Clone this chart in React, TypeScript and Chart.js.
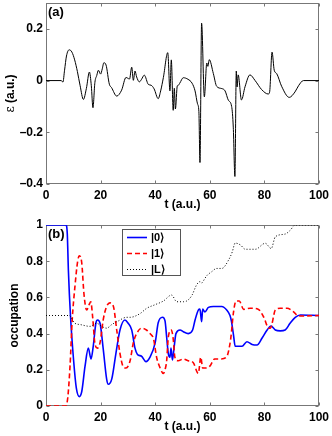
import React, { useEffect, useRef } from "react";
import { Chart, registerables } from "chart.js";

Chart.register(...registerables);

// ---------------- data ----------------
const tTicks = [0, 20, 40, 60, 80, 100];
const tTickLabels = ["0", "20", "40", "60", "80", "100"];
const epsTicks = [-0.4, -0.2, 0, 0.2];
const epsTickLabels = ["\u20130.4", "\u20130.2", "0", "0.2"];
const occTicks = [0, 0.2, 0.4, 0.6, 0.8, 1];
const occTickLabels = ["0", "0.2", "0.4", "0.6", "0.8", "1"];

// panel (a): field epsilon(t)
const fieldT = [0, 5.6, 6.2, 6.8, 7.5, 8.5, 9.5, 10.5, 11.5, 12.5, 13.7, 14.8, 15.9, 16.6, 17.2, 17.9, 18.6, 19.2, 20.0, 20.6, 21.2, 22.0, 23.2, 24.0, 25.9, 27.7, 29.3, 30.6, 31.4, 32.0, 32.6, 33.2, 34.2, 35.0, 36.0, 37.5, 38.5, 39.6, 41.1, 42.0, 43.0, 44.6, 45.4, 45.9, 46.6, 47.0, 47.4, 48.1, 48.5, 49.0, 50.3, 52.0, 53.5, 54.6, 55.5, 56.0, 56.4, 57.0, 58.0, 58.9, 59.3, 59.8, 61.3, 62.5, 64.4, 65.6, 66.8, 68.0, 68.6, 69.2, 69.7, 70.0, 70.4, 71.6, 72.9, 74.7, 76.6, 79.0, 81.4, 81.9, 82.8, 83.6, 84.5, 86.3, 89.1, 91.2, 92.5, 94.3, 100];
const fieldE = [0, 0, -0.006, 0.04, 0.095, 0.119, 0.11, 0.08, 0.035, -0.02, -0.073, -0.03, 0.033, -0.02, -0.105, -0.008, 0.02, 0.04, 0.025, 0.045, 0.069, 0.06, -0.014, -0.027, -0.06, -0.037, 0.012, 0.006, 0.052, 0.001, 0.037, 0.014, -0.005, 0.005, 0.021, -0.015, -0.018, -0.032, -0.07, -0.04, 0.012, 0.108, -0.04, 0.08, -0.115, -0.03, -0.11, -0.02, -0.018, -0.01, 0.011, 0.005, -0.01, -0.04, -0.09, -0.12, -0.317, 0.222, -0.063, 0.068, 0.055, 0.081, 0.027, -0.022, -0.031, -0.04, -0.076, -0.1, -0.18, -0.371, 0.037, -0.025, 0.022, -0.075, -0.024, 0.022, 0.0, -0.035, -0.052, -0.045, 0.11, 0.04, 0.027, -0.022, -0.065, -0.044, -0.02, 0, 0];

// panel (b): occupations
const p0T = [0, 7.3, 7.8, 8.2, 9.0, 10.1, 11.1, 12.2, 13.1, 14.3, 15.5, 16.5, 17.3, 18.3, 18.9, 19.8, 21.0, 22.2, 22.8, 24.1, 25.6, 27.1, 28.9, 30.1, 31.4, 32.6, 33.5, 35.0, 36.6, 38.1, 40.0, 41.1, 42.7, 43.6, 44.2, 44.8, 45.4, 45.8, 46.3, 46.9, 47.6, 49.1, 50.3, 52.1, 53.7, 54.6, 55.8, 56.4, 57.0, 57.4, 58.2, 59.5, 61.3, 64.4, 66.2, 67.4, 67.9, 68.7, 69.3, 71.8, 73.6, 75.5, 77.3, 79.1, 81.0, 82.4, 84.0, 85.8, 87.6, 89.4, 91.3, 93.2, 100];
const p0V = [1, 1, 0.95, 0.75, 0.49, 0.254, 0.1, 0.052, 0.08, 0.22, 0.32, 0.26, 0.33, 0.46, 0.475, 0.457, 0.31, 0.15, 0.12, 0.15, 0.29, 0.42, 0.475, 0.457, 0.42, 0.32, 0.285, 0.275, 0.245, 0.27, 0.35, 0.46, 0.49, 0.47, 0.38, 0.29, 0.27, 0.32, 0.254, 0.32, 0.4, 0.42, 0.41, 0.4, 0.42, 0.475, 0.53, 0.535, 0.466, 0.535, 0.52, 0.545, 0.55, 0.55, 0.53, 0.5, 0.47, 0.39, 0.33, 0.33, 0.355, 0.34, 0.337, 0.374, 0.42, 0.442, 0.42, 0.415, 0.42, 0.457, 0.49, 0.503, 0.5];

const p1T = [0, 7.3, 8.0, 8.8, 9.6, 10.6, 11.6, 12.2, 13.1, 13.9, 14.9, 15.8, 16.4, 17.1, 17.9, 18.8, 19.8, 21.0, 22.2, 23.4, 24.7, 25.9, 27.1, 28.3, 29.3, 30.8, 32.0, 33.2, 35.0, 36.8, 38.1, 39.4, 40.5, 41.8, 43.0, 43.6, 44.2, 44.8, 45.9, 46.6, 47.2, 48.4, 50.3, 52.1, 53.9, 55.8, 56.7, 57.4, 58.8, 60.0, 61.8, 64.2, 66.1, 67.6, 68.7, 69.6, 70.8, 72.4, 74.8, 77.7, 79.8, 81.6, 82.2, 84.0, 85.8, 88.3, 90.7, 92.5, 100];
const p1V = [0, 0, 0.05, 0.22, 0.475, 0.66, 0.8, 0.83, 0.79, 0.62, 0.53, 0.56, 0.576, 0.49, 0.346, 0.32, 0.35, 0.48, 0.55, 0.57, 0.55, 0.42, 0.29, 0.217, 0.21, 0.25, 0.35, 0.4, 0.43, 0.42, 0.4, 0.37, 0.27, 0.21, 0.18, 0.2, 0.25, 0.38, 0.42, 0.37, 0.27, 0.25, 0.26, 0.25, 0.24, 0.18, 0.27, 0.21, 0.21, 0.22, 0.26, 0.26, 0.27, 0.365, 0.52, 0.58, 0.58, 0.534, 0.54, 0.535, 0.49, 0.43, 0.43, 0.53, 0.54, 0.54, 0.52, 0.497, 0.5];

const pLT = [0, 8.5, 10.6, 12.5, 16.1, 18.6, 20.4, 22.2, 24.1, 26.5, 29.5, 30.8, 34.4, 36.9, 40.0, 43.0, 46.0, 47.9, 50.3, 51.5, 53.4, 55.2, 56.4, 57.0, 58.2, 58.9, 60.7, 62.5, 64.4, 66.9, 68.2, 69.3, 71.2, 73.0, 76.7, 80.3, 82.5, 84.0, 87.6, 89.4, 91.3, 100];
const pLV = [0.5, 0.5, 0.457, 0.45, 0.44, 0.457, 0.44, 0.43, 0.45, 0.47, 0.49, 0.49, 0.51, 0.54, 0.56, 0.58, 0.613, 0.576, 0.576, 0.58, 0.61, 0.67, 0.687, 0.68, 0.705, 0.72, 0.742, 0.76, 0.76, 0.807, 0.85, 0.9, 0.89, 0.866, 0.866, 0.899, 0.87, 0.935, 0.95, 0.97, 1.0, 1.0];

const seriesLabels = ["|0\u27E9", "|1\u27E9", "|L\u27E9"];
const seriesColors = ["#0000ff", "#ff0000", "#000000"];

// ---------------- styling ----------------
const FONT = '"Liberation Sans", Arial, Helvetica, sans-serif';
const FRAME = "#777777";
const W = 332;
const H = 218;

const toXY = (t: number[], v: number[]) => t.map((x, i) => ({ x, y: v[i] }));

type Decor = {
  id: string;
  xTicks: number[];
  yTicks: number[];
  panel: string;
  xTitleY: number;
  yTitleX: number;
  yTitle: "eps" | "occ";
  legend: boolean;
};

const makeDecor = (d: Decor) => ({
  id: d.id,
  beforeDatasetsDraw(chart: any) {
    const { ctx, chartArea: a, scales } = chart;
    const L = Math.round(a.left) + 0.5;
    const R = Math.round(a.right) - 0.5;
    const T = Math.round(a.top) + 0.5;
    const B = Math.round(a.bottom) - 0.5;
    ctx.save();
    ctx.strokeStyle = FRAME;
    ctx.lineWidth = 1;
    ctx.strokeRect(L, T, R - L, B - T);
    ctx.beginPath();
    for (const v of d.xTicks) {
      const px = Math.round(scales.x.getPixelForValue(v)) + 0.5;
      ctx.moveTo(px, B);
      ctx.lineTo(px, B - 3);
      ctx.moveTo(px, T);
      ctx.lineTo(px, T + 3);
    }
    for (const v of d.yTicks) {
      const py = Math.round(scales.y.getPixelForValue(v)) + 0.5;
      ctx.moveTo(L, py);
      ctx.lineTo(L + 3, py);
      ctx.moveTo(R, py);
      ctx.lineTo(R - 3, py);
    }
    ctx.stroke();
    ctx.restore();
  },
  afterDatasetsDraw(chart: any) {
    const { ctx, chartArea: a } = chart;
    ctx.save();
    ctx.fillStyle = "#000";
    // panel label
    ctx.font = `bold 13px ${FONT}`;
    ctx.textAlign = "left";
    ctx.textBaseline = "top";
    ctx.fillText(d.panel, a.left + 2, a.top + 3);
    // x title
    ctx.font = `bold 12px ${FONT}`;
    ctx.textAlign = "center";
    ctx.textBaseline = "middle";
    ctx.fillText("t (a.u.)", (a.left + a.right) / 2, d.xTitleY);
    // y title
    ctx.save();
    ctx.translate(d.yTitleX, (a.top + a.bottom) / 2);
    ctx.rotate(-Math.PI / 2);
    if (d.yTitle === "occ") {
      ctx.font = `bold 12px ${FONT}`;
      ctx.textAlign = "center";
      ctx.fillText("occupation", 0, 0);
    } else {
      const p1 = "\u03B5";
      const p2 = " (a.u.)";
      ctx.font = `12px "DejaVu Serif", serif`;
      const w1 = ctx.measureText(p1).width;
      ctx.font = `bold 12px ${FONT}`;
      const w2 = ctx.measureText(p2).width;
      const x0 = -(w1 + w2) / 2;
      ctx.textAlign = "left";
      ctx.font = `12px "DejaVu Serif", serif`;
      ctx.fillText(p1, x0, 0);
      ctx.font = `bold 12px ${FONT}`;
      ctx.fillText(p2, x0 + w1, 0);
    }
    ctx.restore();

    if (d.legend) {
      const bx = 122, by = 11, bw = 58, bh = 46;
      ctx.fillStyle = "#ffffff";
      ctx.fillRect(bx, by, bw, bh);
      ctx.strokeStyle = "#555555";
      ctx.lineWidth = 1;
      ctx.strokeRect(bx + 0.5, by + 0.5, bw, bh);
      const rows = [19.5, 35.5, 51.5];
      const dashes = [[], [5, 3], [1, 2]];
      const widths = [1.6, 1.6, 1];
      for (let i = 0; i < 3; i++) {
        ctx.beginPath();
        ctx.setLineDash(dashes[i]);
        ctx.strokeStyle = seriesColors[i];
        ctx.lineWidth = widths[i];
        ctx.moveTo(127, rows[i]);
        ctx.lineTo(147, rows[i]);
        ctx.stroke();
        ctx.setLineDash([]);
        ctx.fillStyle = "#000";
        ctx.font = `bold 11px ${FONT}`;
        ctx.textAlign = "left";
        ctx.textBaseline = "middle";
        ctx.fillText(seriesLabels[i], 151, rows[i]);
      }
    }
    ctx.restore();
  },
});

const tickFont = { family: FONT, size: 12, weight: "bold" as const };

const makeScales = (
  yMin: number,
  yMax: number,
  yTicks: number[],
  yLabels: string[],
  xAxisH: number
) => ({
  x: {
    type: "linear" as const,
    min: 0,
    max: 100,
    afterBuildTicks: (s: any) => {
      s.ticks = tTicks.map((v) => ({ value: v }));
    },
    afterFit: (s: any) => {
      s.height = xAxisH;
      s.paddingLeft = 0;
      s.paddingRight = 0;
    },
    grid: { display: false, drawTicks: false },
    border: { display: false },
    ticks: {
      font: tickFont,
      color: "#000",
      padding: 4,
      maxRotation: 0,
      autoSkip: false,
      callback: (_v: any, i: number) => tTickLabels[i],
    },
  },
  y: {
    type: "linear" as const,
    min: yMin,
    max: yMax,
    afterBuildTicks: (s: any) => {
      s.ticks = yTicks.map((v) => ({ value: v }));
    },
    afterFit: (s: any) => {
      s.width = 46;
      s.paddingTop = 0;
      s.paddingBottom = 0;
    },
    grid: { display: false, drawTicks: false },
    border: { display: false },
    ticks: {
      font: tickFont,
      color: "#000",
      padding: 3,
      autoSkip: false,
      callback: (_v: any, i: number) => yLabels[i],
    },
  },
});

function FieldPanel() {
  const ref = useRef<HTMLCanvasElement>(null);
  useEffect(() => {
    if (!ref.current) return;
    const chart = new Chart(ref.current, {
      type: "line",
      data: {
        datasets: [
          {
            data: toXY(fieldT, fieldE),
            borderColor: "#000",
            borderWidth: 1,
            pointRadius: 0,
            cubicInterpolationMode: "monotone",
            fill: false,
          },
        ],
      },
      options: {
        responsive: false,
        animation: false,
        layout: { padding: { left: 0, right: 13, top: 3, bottom: 0 } },
        plugins: { legend: { display: false }, tooltip: { enabled: false } },
        scales: makeScales(-0.4, 0.3, epsTicks, epsTickLabels, 34) as any,
      },
      plugins: [
        makeDecor({
          id: "decorA",
          xTicks: tTicks,
          yTicks: epsTicks,
          panel: "(a)",
          xTitleY: 205,
          yTitleX: 11,
          yTitle: "eps",
          legend: false,
        }),
      ],
    });
    return () => chart.destroy();
  }, []);
  return <canvas ref={ref} width={W} height={H} style={{ display: "block" }} />;
}

function OccupationPanel() {
  const ref = useRef<HTMLCanvasElement>(null);
  useEffect(() => {
    if (!ref.current) return;
    const chart = new Chart(ref.current, {
      type: "line",
      data: {
        datasets: [
          {
            label: seriesLabels[0],
            data: toXY(p0T, p0V),
            borderColor: seriesColors[0],
            borderWidth: 1.6,
            pointRadius: 0,
            cubicInterpolationMode: "monotone",
            fill: false,
            order: 3,
          },
          {
            label: seriesLabels[1],
            data: toXY(p1T, p1V),
            borderColor: seriesColors[1],
            borderWidth: 1.6,
            borderDash: [5, 3],
            pointRadius: 0,
            cubicInterpolationMode: "monotone",
            fill: false,
            order: 2,
          },
          {
            label: seriesLabels[2],
            data: toXY(pLT, pLV),
            borderColor: seriesColors[2],
            borderWidth: 1,
            borderDash: [1, 2],
            pointRadius: 0,
            cubicInterpolationMode: "monotone",
            fill: false,
            order: 1,
          },
        ],
      },
      options: {
        responsive: false,
        animation: false,
        layout: { padding: { left: 0, right: 13, top: 7, bottom: 0 } },
        plugins: { legend: { display: false }, tooltip: { enabled: false } },
        scales: makeScales(0, 1, occTicks, occTickLabels, 30) as any,
      },
      plugins: [
        makeDecor({
          id: "decorB",
          xTicks: tTicks,
          yTicks: occTicks,
          panel: "(b)",
          xTitleY: 209,
          yTitleX: 15,
          yTitle: "occ",
          legend: true,
        }),
      ],
    });
    return () => chart.destroy();
  }, []);
  return <canvas ref={ref} width={W} height={H} style={{ display: "block" }} />;
}

export default function App() {
  return (
    <div
      style={{
        position: "absolute",
        left: 0,
        top: 0,
        width: W,
        height: 2 * H,
        background: "#fff",
      }}
    >
      <FieldPanel />
      <OccupationPanel />
    </div>
  );
}
